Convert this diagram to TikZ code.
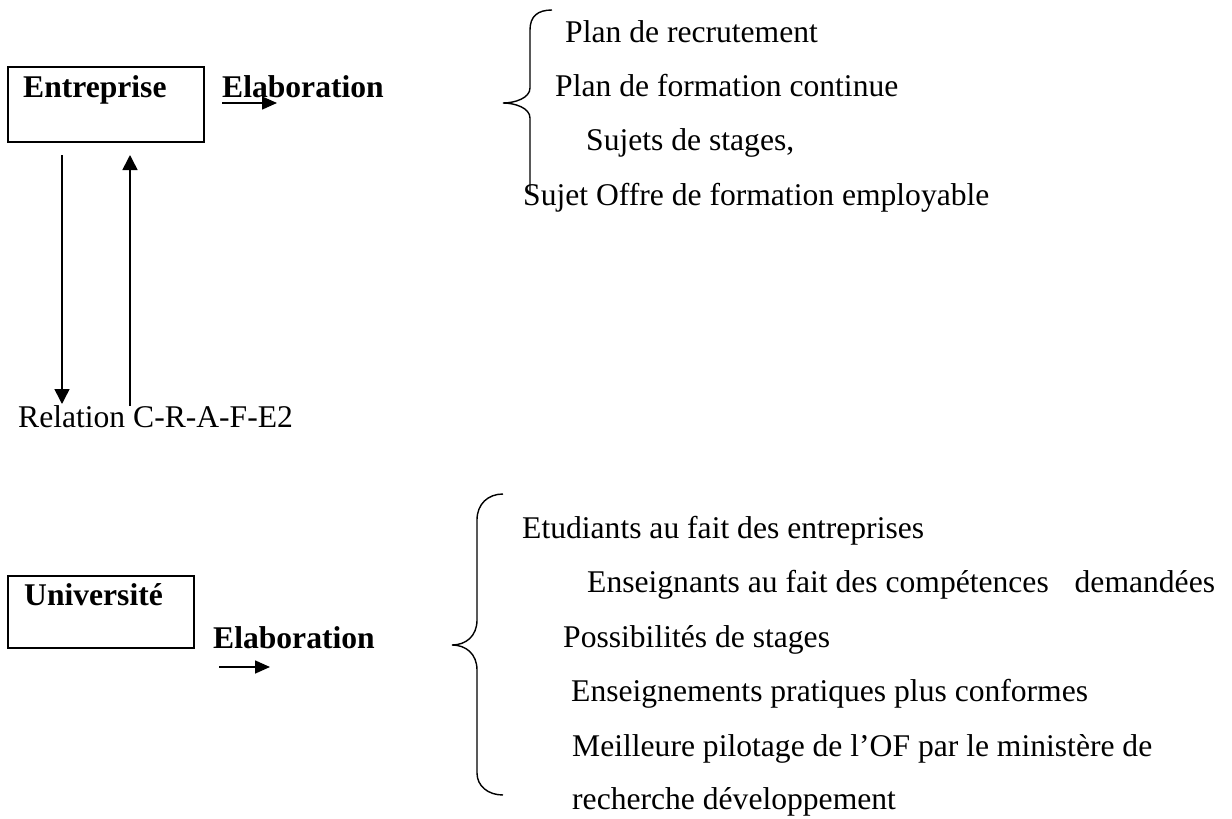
\documentclass[tikz,border=0pt]{standalone}
\usepackage{fontspec}
\setmainfont{Liberation Serif}
\usetikzlibrary{arrows.meta}
\begin{document}
\begin{tikzpicture}[x={(1pt,0pt)}, y={(0pt,-1pt)},
  txt/.style={anchor=base west, inner sep=0pt, font=\fontsize{31.6}{38}\selectfont},
  boldtxt/.style={anchor=base west, inner sep=0pt, font=\fontsize{31.6}{38}\selectfont\bfseries},
  frame/.style={draw, line width=2pt, inner sep=0pt},
  link/.style={line width=1.6pt, -{Triangle[length=15pt,width=15pt]}},
  smalllink/.style={line width=1.6pt, -{Triangle[length=15pt,width=13pt]}},
  brace/.style={line width=1.4pt}]
\useasboundingbox (0,0) rectangle (1232,819);

% ---- Entreprise ----
\node[frame, minimum width=196pt, minimum height=75pt] (entbox) at (106,104.5) {};
\node[boldtxt] (ent) at (23,97) {Entreprise};
\node[boldtxt] (elab1) at (222,97) {Elaboration};
\coordinate (e1s) at (222,103);
\coordinate (e1t) at (277,103);
\draw[smalllink] (e1s) -- (e1t);

% upper list and its brace
\draw[brace] (552,10) .. controls (538,10) and (530,16) .. (530,30) -- (530,88)
  .. controls (530,98) and (515,103) .. (503,103)
  .. controls (515,103) and (530,108) .. (530,118) -- (530,195);
\node[txt] (p1) at (565,42) {Plan de recrutement};
\node[txt] (p2) at (555,96) {Plan de formation continue};
\node[txt] (p3) at (586,150) {Sujets de stages,};
\node[txt] (p4) at (523,205) {Sujet Offre de formation employable};

% ---- relation between the two ----
\node[txt] (rel) at (18,427) {Relation C-R-A-F-E2};
\coordinate (downstart) at (62,155);
\coordinate (downend) at (62,404);
\coordinate (upstart) at (130,406);
\coordinate (upend) at (130,155);
\draw[link] (downstart) -- (downend);
\draw[link] (upstart) -- (upend);

% ---- Université ----
\node[frame, minimum width=186pt, minimum height=72pt] (unibox) at (101,612) {};
\node[boldtxt] (uni) at (24,605) {Université};
\node[boldtxt] (elab2) at (213,648) {Elaboration};
\coordinate (e2s) at (219,667);
\coordinate (e2t) at (270,667);
\draw[smalllink] (e2s) -- (e2t);

% lower list and its brace
\draw[brace] (503,494) .. controls (488,494) and (477,504) .. (477,520) -- (477,620)
  .. controls (477,636) and (466,645) .. (452,645)
  .. controls (466,645) and (477,654) .. (477,670) -- (477,773)
  .. controls (477,786) and (488,795) .. (503,795);
\node[txt] (q1) at (522,538) {Etudiants au fait des entreprises};
\node[txt] (q2) at (587,592) {Enseignants au fait des compétences\hspace{18pt} demandées};
\node[txt] (q3) at (563,647) {Possibilités de stages};
\node[txt] (q4) at (571,701) {Enseignements pratiques plus conformes};
\node[txt] (q5) at (572,756) {Meilleure pilotage de l’OF par le ministère de};
\node[txt] (q6) at (572,809) {recherche développement};
\end{tikzpicture}
\end{document}
